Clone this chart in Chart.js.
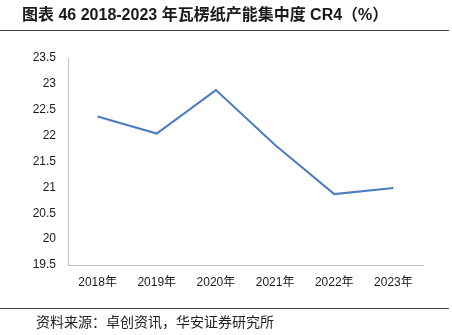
<!DOCTYPE html>
<html>
<head>
<meta charset="utf-8">
<script src="https://cdn.jsdelivr.net/npm/chart.js@4/dist/chart.umd.min.js"></script>
<style>
  html, body { margin: 0; padding: 0; background: #fff; }
  #wrap { position: relative; width: 452px; height: 335px; overflow: hidden; }
  #title { position: absolute; left: 22px; top: 5px; font: bold 16px "Liberation Sans", "Noto Sans CJK SC", sans-serif; color: #1a1a1a; white-space: nowrap; line-height: 20px; }
  #topline { position: absolute; left: 0; top: 30px; width: 449px; height: 0; border-top: 1.5px solid #444; }
  #botline { position: absolute; left: 0; top: 308px; width: 449px; height: 0; border-top: 1.5px solid #444; }
  #source { position: absolute; left: 36px; top: 312px; font: 14px "Noto Sans CJK SC", sans-serif; color: #222; white-space: nowrap; line-height: 18px; }
  canvas { position: absolute; left: 0; top: 0; }
</style>
</head>
<body>
<div id="wrap">
  <canvas id="c" width="452" height="335"></canvas>
  <div id="title">图表 46 2018-2023 年瓦楞纸产能集中度 CR4（%）</div>
  <div id="topline"></div>
  <div id="botline"></div>
  <div id="source">资料来源：卓创资讯，华安证券研究所</div>
</div>
<script>
const categories = ["2018年", "2019年", "2020年", "2021年", "2022年", "2023年"];
const cr4Values = [22.37, 22.04, 22.88, 21.82, 20.87, 20.99];
const yMin = 19.5, yMax = 23.5, yStep = 0.5;

new Chart(document.getElementById('c'), {
  type: 'line',
  data: {
    labels: categories,
    datasets: [{
      data: cr4Values,
      borderColor: '#4a7ebf',
      borderWidth: 2,
      pointRadius: 0,
      tension: 0,
      fill: false
    }]
  },
  options: {
    responsive: false,
    animation: false,
    layout: { padding: { left: 0, top: 58, right: 29, bottom: 0 } },
    plugins: { legend: { display: false }, tooltip: { enabled: false }, title: { display: false } },
    scales: {
      x: {
        offset: true,
        grid: { display: false, drawTicks: false },
        border: { display: true, color: '#bfbfbf', width: 1 },
        ticks: { color: '#1a1a1a', padding: 10, font: { size: 12, family: '"Liberation Sans", "Noto Sans CJK SC", sans-serif' }, maxRotation: 0 },
        afterFit: (s) => { s.height = 70; }
      },
      y: {
        min: yMin, max: yMax,
        grid: { display: false, drawTicks: false },
        border: { display: true, color: '#bfbfbf', width: 1 },
        ticks: { stepSize: yStep, color: '#1a1a1a', padding: 12, font: { size: 12, family: '"Liberation Sans", sans-serif' },
          callback: (v) => String(Math.round(v * 10) / 10) },
        afterFit: (s) => { s.width = 68; }
      }
    }
  }
});
</script>
</body>
</html>
